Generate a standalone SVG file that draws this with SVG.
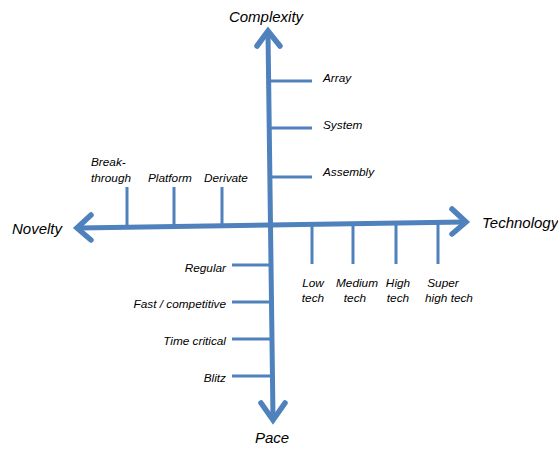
<svg xmlns="http://www.w3.org/2000/svg" width="558" height="449" viewBox="0 0 558 449">
  <style>
    .axis { stroke: #4f81bd; stroke-width: 5; fill: none; stroke-linecap: butt; }
    .head { stroke: #4f81bd; stroke-width: 5.5; fill: none; stroke-linejoin: miter; stroke-linecap: round; }
    .tick { stroke: #4f81bd; stroke-width: 3; fill: none; }
    .big { font-family: "Liberation Sans", Arial, sans-serif; font-style: italic; font-size: 15px; fill: #000; }
    .lbl { font-family: "Liberation Sans", Arial, sans-serif; font-style: italic; font-size: 11.8px; fill: #000; }
  </style>
  <rect width="558" height="449" fill="#fff"/>

  <g id="connectors">
    <!-- main axes -->
    <line class="axis" x1="268" y1="33" x2="273" y2="418"/>
    <line class="axis" x1="79" y1="228" x2="464" y2="222"/>
    <!-- arrowheads -->
    <polyline class="head" points="257,46 268,31 280,46"/>
    <polyline class="head" points="261,403 273,420 285,403"/>
    <polyline class="head" points="91,215 77,228 91,240"/>
    <polyline class="head" points="452,209 466,222 452,234"/>
  </g>

  <g id="complexity">
    <text class="big" x="266" y="22" text-anchor="middle">Complexity</text>
    <g id="array"><line class="tick" x1="271" y1="81" x2="312" y2="81"/><text class="lbl" x="323" y="82">Array</text></g>
    <g id="system"><line class="tick" x1="271" y1="128" x2="312" y2="128"/><text class="lbl" x="323" y="129">System</text></g>
    <g id="assembly"><line class="tick" x1="271" y1="177" x2="312" y2="177"/><text class="lbl" x="323" y="176">Assembly</text></g>
  </g>

  <g id="novelty">
    <text class="big" x="12" y="234">Novelty</text>
    <g id="breakthrough"><line class="tick" x1="127" y1="187" x2="127" y2="227"/><text class="lbl" x="91" y="166">Break-</text><text class="lbl" x="91" y="182">through</text></g>
    <g id="platform"><line class="tick" x1="174" y1="187" x2="174" y2="227"/><text class="lbl" x="148" y="182">Platform</text></g>
    <g id="derivate"><line class="tick" x1="222" y1="187" x2="222" y2="226"/><text class="lbl" x="204" y="182">Derivate</text></g>
  </g>

  <g id="technology">
    <text class="big" x="482" y="228">Technology</text>
    <g id="low"><line class="tick" x1="312" y1="224" x2="312" y2="264"/><text class="lbl" x="313" y="287" text-anchor="middle">Low</text><text class="lbl" x="313" y="302" text-anchor="middle">tech</text></g>
    <g id="medium"><line class="tick" x1="353" y1="223" x2="353" y2="264"/><text class="lbl" x="357" y="287" text-anchor="middle">Medium</text><text class="lbl" x="355" y="302" text-anchor="middle">tech</text></g>
    <g id="high"><line class="tick" x1="396" y1="223" x2="396" y2="264"/><text class="lbl" x="398" y="287" text-anchor="middle">High</text><text class="lbl" x="398" y="302" text-anchor="middle">tech</text></g>
    <g id="superhigh"><line class="tick" x1="438" y1="222" x2="438" y2="264"/><text class="lbl" x="443" y="287" text-anchor="middle">Super</text><text class="lbl" x="449" y="302" text-anchor="middle">high tech</text></g>
  </g>

  <g id="pace">
    <text class="big" x="272" y="443" text-anchor="middle">Pace</text>
    <g id="regular"><line class="tick" x1="232" y1="265" x2="272" y2="265"/><text class="lbl" x="226" y="272" text-anchor="end">Regular</text></g>
    <g id="fast"><line class="tick" x1="232" y1="302" x2="272" y2="302"/><text class="lbl" x="226" y="308" text-anchor="end">Fast / competitive</text></g>
    <g id="timecritical"><line class="tick" x1="232" y1="339" x2="272" y2="339"/><text class="lbl" x="226" y="345" text-anchor="end">Time critical</text></g>
    <g id="blitz"><line class="tick" x1="232" y1="376" x2="272" y2="376"/><text class="lbl" x="226" y="382" text-anchor="end">Blitz</text></g>
  </g>
</svg>
